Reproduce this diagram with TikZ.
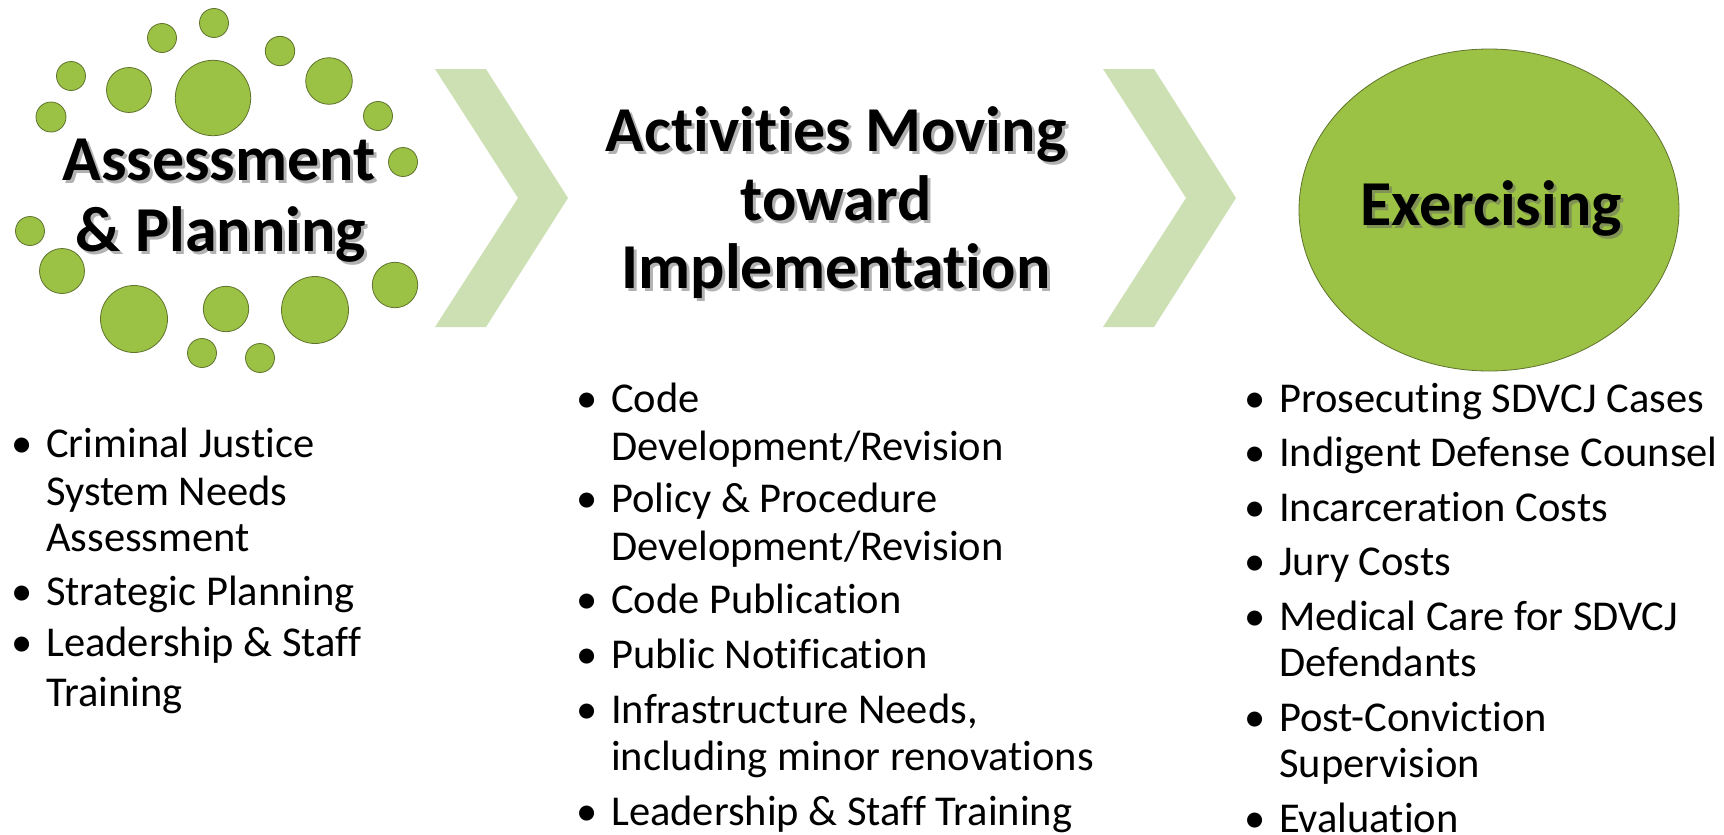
\documentclass[tikz,border=0pt]{standalone}
\usepackage{fontspec}
\setmainfont{Carlito}[Ligatures=NoCommon]
\definecolor{dotgreen}{RGB}{155,194,68}
\definecolor{dotline}{RGB}{95,115,45}
\definecolor{chev}{RGB}{205,224,180}
\begin{document}
\begin{tikzpicture}[x=1pt,y=-1pt,
 dot/.style={fill=dotgreen,draw=dotline,line width=0.8pt},
 chevron/.style={fill=chev,draw=none},
 body/.style={anchor=base west,inner sep=0pt,font=\fontsize{42.5}{50}\selectfont},
 head/.style={anchor=base,inner sep=0pt,font=\fontsize{64}{74}\selectfont\bfseries},
 headshadow/.style={head,text=black!60,opacity=0.5}]
\useasboundingbox (0,0) rectangle (1724,835);
% left dots
\foreach \x/\y/\r in {214/23/14.5,162/38/14.5,280/51/14.7,71/76/14.5,129/90/22.5,213/98/37.7,329/81/23.3,51/117/15,378/116/14.5,403/162/14.5,30/231/14.5,62/271/22.5,395/285/22.7,134/319/33.5,226/309/22.7,315/310/33.5,202/353/14.5,260/358/14.5}
  \draw[dot] (\x,\y) circle[radius=\r];
% chevrons
\fill[chevron] (435,69) -- (486,69) -- (568,198) -- (486,327) -- (435,327) -- (518,198) -- cycle;
\fill[chevron] (1103,69) -- (1154,69) -- (1236,198) -- (1154,327) -- (1103,327) -- (1186,198) -- cycle;
% ellipse
\draw[dot] (1489,210) ellipse[x radius=190,y radius=161];
% headings with shadows
\node[headshadow] at (222,183) {Assessment};
\node[head] (h1a) at (219,180) {Assessment};
\node[headshadow] at (224,254) {\& Planning};
\node[head] (h1b) at (221,251) {\& Planning};
\node[headshadow] at (839,154) {Activities Moving};
\node[head] (h2a) at (836,151) {Activities Moving};
\node[headshadow] at (839,223) {toward};
\node[head] (h2b) at (836,220) {toward};
\node[headshadow] at (839,291) {Implementation};
\node[head] (h2c) at (836,288) {Implementation};
\node[headshadow] at (1494,228) {Exercising};
\node[head] (h3) at (1491,225) {Exercising};
% left list
\foreach \n/\y/\b/\t in {l1/457/1/Criminal Justice,l2/505/0/System Needs,l3/551/0/Assessment,l4/605/1/Strategic Planning,l5/656/1/Leadership \& Staff,l6/706/0/Training}{
  \node[body] (\n) at (46,\y) {\t};
  \ifnum\b=1 \node[body] (\n b) at (11,\y) {•};\fi
}
% middle list
\foreach \n/\y/\b/\t in {m1/412/1/Code,m2/460/0/{Development/Revision},m3/512/1/Policy \& Procedure,m4/560/0/{Development/Revision},m5/613/1/Code Publication,m6/668/1/Public Notification,m7/723/1/{Infrastructure Needs,},m8/770/0/including minor renovations,m9/825/1/Leadership \& Staff Training}{
  \node[body] (\n) at (611,\y) {\t};
  \ifnum\b=1 \node[body] (\n b) at (576,\y) {•};\fi
}
% right list
\foreach \n/\y/\b/\t in {r1/412/1/Prosecuting SDVCJ Cases,r2/466/1/Indigent Defense Counsel,r3/521/1/Incarceration Costs,r4/575/1/Jury Costs,r5/630/1/Medical Care for SDVCJ,r6/676/0/Defendants,r7/731/1/Post-Conviction,r8/777/0/Supervision,r9/832/1/Evaluation}{
  \node[body] (\n) at (1279,\y) {\t};
  \ifnum\b=1 \node[body] (\n b) at (1244,\y) {•};\fi
}
\end{tikzpicture}
\end{document}
